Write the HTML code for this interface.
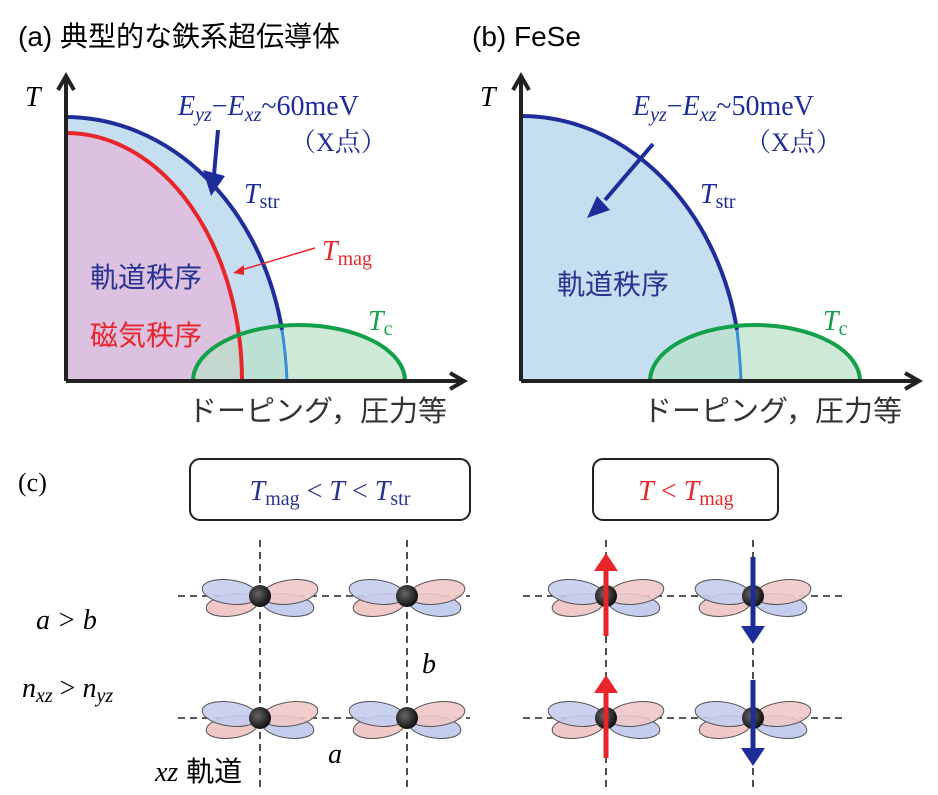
<!DOCTYPE html>
<html><head><meta charset="utf-8"><style>
body{margin:0;background:#fff}
svg{display:block}
text{font-family:"Liberation Serif","Noto Serif CJK SC",serif}
.j{font-family:"Liberation Sans","Noto Sans CJK JP",sans-serif}
</style></head><body>
<svg width="938" height="795" viewBox="0 0 938 795" xmlns="http://www.w3.org/2000/svg">
<defs>
<radialGradient id="ball" cx="0.4" cy="0.4" r="0.6"><stop offset="0" stop-color="#666"/><stop offset="1" stop-color="#111"/></radialGradient>
<g id="orb">
<ellipse cx="-28" cy="9" rx="26" ry="11" fill="#f0c8c8" stroke="#555" stroke-width="1" transform="rotate(-8 -28 9)"/>
<ellipse cx="28" cy="9" rx="26" ry="11" fill="#c4cdee" stroke="#555" stroke-width="1" transform="rotate(8 28 9)"/>
<ellipse cx="-30" cy="-4" rx="28" ry="12" fill="#c4cdee" fill-opacity="0.9" stroke="#555" stroke-width="1" transform="rotate(8 -30 -4)"/>
<ellipse cx="30" cy="-4" rx="28" ry="12" fill="#f0c8c8" fill-opacity="0.9" stroke="#555" stroke-width="1" transform="rotate(-8 30 -4)"/>
<circle r="11" fill="url(#ball)"/>
</g>
</defs>

<!-- Panel a -->
<text x="18" y="46" font-size="28" class="j">(a) 典型的な鉄系超伝導体</text>
<path d="M66,117 A221,264 0 0 1 287,381 L66,381 Z" fill="#c6dff0"/>
<path d="M66,133 A176,248 0 0 1 242,381 L66,381 Z" fill="#dcc2e0"/>
<path d="M193,381 A106,56 0 0 1 405,381 Z" fill="#b9e0c8" fill-opacity="0.7"/>
<path d="M66,117 A221,264 0 0 1 282,330" fill="none" stroke="#1f2d9a" stroke-width="4"/>
<path d="M282,330 Q286,355 287,381" fill="none" stroke="#3a8ed8" stroke-width="3"/>
<path d="M66,133 A176,248 0 0 1 242,381" fill="none" stroke="#e8252a" stroke-width="4"/>
<path d="M193,381 A106,56 0 0 1 405,381" fill="none" stroke="#12a04a" stroke-width="4"/>
<line x1="66" y1="381" x2="66" y2="80" stroke="#222" stroke-width="4"/>
<path d="M58,90 L66,76 L74,90" fill="none" stroke="#222" stroke-width="4"/>
<line x1="66" y1="381" x2="460" y2="381" stroke="#222" stroke-width="4"/>
<path d="M450,373 L464,381 L450,389" fill="none" stroke="#222" stroke-width="4"/>
<text x="25" y="106" font-size="28" font-style="italic">T</text>
<text x="178" y="115" font-size="28" fill="#1f2d9a"><tspan font-style="italic">E</tspan><tspan font-size="20" dy="6" font-style="italic">yz</tspan><tspan dy="-6">−</tspan><tspan font-style="italic">E</tspan><tspan font-size="20" dy="6" font-style="italic">xz</tspan><tspan dy="-6">~60meV</tspan></text>
<text x="290" y="151" font-size="26" fill="#1f2d9a">（X点）</text>
<line x1="218" y1="130" x2="214" y2="175" stroke="#1f2d9a" stroke-width="4"/>
<path d="M203,170 L211,196 L225,176 Z" fill="#1f2d9a"/>
<text x="244" y="203" font-size="28" fill="#1f2d9a" font-style="italic">T<tspan font-size="20" dy="5" font-style="normal">str</tspan></text>
<line x1="315" y1="248" x2="238" y2="271" stroke="#e8252a" stroke-width="1.5"/>
<path d="M233,273 L244,265 L244,275 Z" fill="#e8252a"/>
<text x="322" y="260" font-size="28" fill="#e8252a" font-style="italic">T<tspan font-size="20" dy="5" font-style="normal">mag</tspan></text>
<text x="90" y="287" font-size="28" fill="#2a3490" class="j">軌道秩序</text>
<text x="90" y="345" font-size="28" fill="#e8252a" class="j">磁気秩序</text>
<text x="368" y="330" font-size="28" fill="#12a04a" font-style="italic">T<tspan font-size="20" dy="5" font-style="normal">c</tspan></text>
<text x="188" y="421" font-size="29" fill="#333" class="j">ドーピング，圧力等</text>

<!-- Panel b -->
<text x="472" y="46" font-size="28" class="j">(b) FeSe</text>
<path d="M521,116 A220,265 0 0 1 741,381 L521,381 Z" fill="#c6dff0"/>
<path d="M650,381 A105,56 0 0 1 860,381 Z" fill="#b9e0c8" fill-opacity="0.7"/>
<path d="M521,116 A220,265 0 0 1 737,330" fill="none" stroke="#1f2d9a" stroke-width="4"/>
<path d="M737,330 Q740,355 741,381" fill="none" stroke="#3a8ed8" stroke-width="3"/>
<path d="M650,381 A105,56 0 0 1 860,381" fill="none" stroke="#12a04a" stroke-width="4"/>
<line x1="521" y1="381" x2="521" y2="80" stroke="#222" stroke-width="4"/>
<path d="M513,90 L521,76 L529,90" fill="none" stroke="#222" stroke-width="4"/>
<line x1="521" y1="381" x2="915" y2="381" stroke="#222" stroke-width="4"/>
<path d="M905,373 L919,381 L905,389" fill="none" stroke="#222" stroke-width="4"/>
<text x="480" y="106" font-size="28" font-style="italic">T</text>
<text x="633" y="115" font-size="28" fill="#1f2d9a"><tspan font-style="italic">E</tspan><tspan font-size="20" dy="6" font-style="italic">yz</tspan><tspan dy="-6">−</tspan><tspan font-style="italic">E</tspan><tspan font-size="20" dy="6" font-style="italic">xz</tspan><tspan dy="-6">~50meV</tspan></text>
<text x="745" y="151" font-size="26" fill="#1f2d9a">（X点）</text>
<line x1="653" y1="144" x2="605" y2="200" stroke="#1f2d9a" stroke-width="4"/>
<path d="M597,196 L587,218 L610,210 Z" fill="#1f2d9a"/>
<text x="700" y="203" font-size="28" fill="#1f2d9a" font-style="italic">T<tspan font-size="20" dy="5" font-style="normal">str</tspan></text>
<text x="557" y="294" font-size="28" fill="#2a3490" class="j">軌道秩序</text>
<text x="823" y="330" font-size="28" fill="#12a04a" font-style="italic">T<tspan font-size="20" dy="5" font-style="normal">c</tspan></text>
<text x="643" y="421" font-size="29" fill="#333" class="j">ドーピング，圧力等</text>

<!-- Panel c -->
<text x="18" y="491" font-size="26">(c)</text>
<rect x="190" y="459" width="280" height="61" rx="10" fill="#fff" stroke="#222" stroke-width="2"/>
<text x="330" y="500" font-size="28" fill="#2a3490" text-anchor="middle"><tspan font-style="italic">T</tspan><tspan font-size="20" dy="5">mag</tspan><tspan dy="-5"> &lt; </tspan><tspan font-style="italic">T</tspan><tspan> &lt; </tspan><tspan font-style="italic">T</tspan><tspan font-size="20" dy="5">str</tspan></text>
<rect x="593" y="459" width="185" height="61" rx="10" fill="#fff" stroke="#222" stroke-width="2"/>
<text x="686" y="500" font-size="28" fill="#e8252a" text-anchor="middle"><tspan font-style="italic">T</tspan> &lt; <tspan font-style="italic">T</tspan><tspan font-size="20" dy="5">mag</tspan></text>

<g stroke="#222" stroke-width="1.6" stroke-dasharray="7,5" fill="none">
<line x1="260" y1="540" x2="260" y2="790"/>
<line x1="407" y1="540" x2="407" y2="790"/>
<line x1="606" y1="540" x2="606" y2="790"/>
<line x1="753" y1="540" x2="753" y2="790"/>
<line x1="178" y1="596" x2="470" y2="596"/>
<line x1="178" y1="718" x2="470" y2="718"/>
<line x1="523" y1="596" x2="842" y2="596"/>
<line x1="523" y1="718" x2="842" y2="718"/>
</g>
<use href="#orb" x="260" y="596"/><use href="#orb" x="407" y="596"/>
<use href="#orb" x="260" y="718"/><use href="#orb" x="407" y="718"/>
<use href="#orb" x="606" y="596"/><use href="#orb" x="753" y="596"/>
<use href="#orb" x="606" y="718"/><use href="#orb" x="753" y="718"/>

<line x1="606" y1="636" x2="606" y2="570" stroke="#e8252a" stroke-width="5"/>
<path d="M594,571 L606,553 L618,571 Z" fill="#e8252a"/>
<line x1="606" y1="758" x2="606" y2="692" stroke="#e8252a" stroke-width="5"/>
<path d="M594,693 L606,675 L618,693 Z" fill="#e8252a"/>
<line x1="753" y1="557" x2="753" y2="627" stroke="#1f2d9a" stroke-width="5"/>
<path d="M741,626 L753,644 L765,626 Z" fill="#1f2d9a"/>
<line x1="753" y1="680" x2="753" y2="749" stroke="#1f2d9a" stroke-width="5"/>
<path d="M741,748 L753,766 L765,748 Z" fill="#1f2d9a"/>

<text x="36" y="629" font-size="28" font-style="italic">a &gt; b</text>
<text x="22" y="697" font-size="28"><tspan font-style="italic">n</tspan><tspan font-size="20" dy="5" font-style="italic">xz</tspan><tspan dy="-5"> &gt; </tspan><tspan font-style="italic">n</tspan><tspan font-size="20" dy="5" font-style="italic">yz</tspan></text>
<text x="422" y="673" font-size="28" font-style="italic">b</text>
<text x="328" y="763" font-size="28" font-style="italic">a</text>
<text x="155" y="781" font-size="28"><tspan font-style="italic">xz</tspan><tspan class="j"> 軌道</tspan></text>
</svg>
</body></html>
